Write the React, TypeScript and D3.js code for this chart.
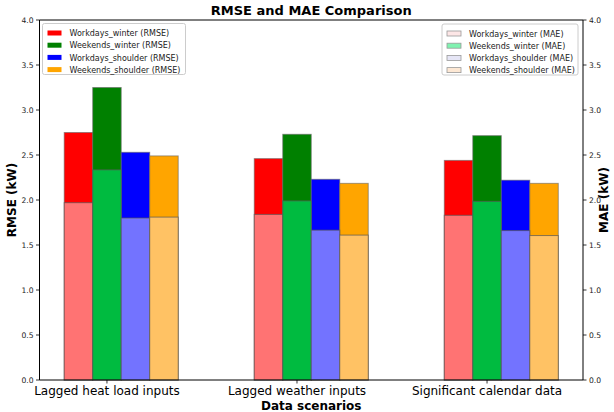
import React from "react";
import * as d3 from "d3";

const categories = ["Lagged heat load inputs", "Lagged weather inputs", "Significant calendar data"];
const seriesNames = ["Workdays_winter", "Weekends_winter", "Workdays_shoulder", "Weekends_shoulder"];
const rmseWorkdaysWinter = [2.75, 2.46, 2.44];
const rmseWeekendsWinter = [3.25, 2.73, 2.715];
const rmseWorkdaysShoulder = [2.53, 2.23, 2.22];
const rmseWeekendsShoulder = [2.49, 2.185, 2.185];
const maeWorkdaysWinter = [1.97, 1.84, 1.83];
const maeWeekendsWinter = [2.335, 1.99, 1.985];
const maeWorkdaysShoulder = [1.80, 1.665, 1.66];
const maeWeekendsShoulder = [1.81, 1.61, 1.605];
const yTicks = [0, 0.5, 1.0, 1.5, 2.0, 2.5, 3.0, 3.5, 4.0];

const rmseColors = ["#ff0000", "#008000", "#0000ff", "#ffa500"];
const maeColors = ["#ff7373", "#00bb40", "#7373ff", "#ffc264"];
const maeLegendColors = ["#fde6e6", "#80f2b0", "#e6e6f6", "#fde8d4"];

const W = 614, H = 412;
const left = 39.5, right = 583, top = 20, bottom = 380;
const barW = 0.15;
const font = "DejaVu Sans, sans-serif";

export default function App() {
  const rmse = [rmseWorkdaysWinter, rmseWeekendsWinter, rmseWorkdaysShoulder, rmseWeekendsShoulder];
  const mae = [maeWorkdaysWinter, maeWeekendsWinter, maeWorkdaysShoulder, maeWeekendsShoulder];
  const x = d3.scaleLinear().domain([-0.355, 2.505]).range([left, right]);
  const y = d3.scaleLinear().domain([0, 4]).range([bottom, top]);
  const y2 = d3.scaleLinear().domain([0, 4]).range([bottom, top]);
  const bw = x(barW) - x(0);

  const bars: React.ReactNode[] = [];
  rmse.forEach((s, i) => {
    s.forEach((v, c) => {
      const cx = x(c + (i - 1) * barW);
      bars.push(
        <rect key={`r${i}-${c}`} x={cx - bw / 2} y={y(v)} width={bw} height={y(0) - y(v)}
          fill={rmseColors[i]} stroke="#666" strokeOpacity={0.6} strokeWidth={1} />
      );
    });
  });
  mae.forEach((s, i) => {
    s.forEach((v, c) => {
      const cx = x(c + (i - 1) * barW);
      bars.push(
        <rect key={`m${i}-${c}`} x={cx - bw / 2} y={y2(v)} width={bw} height={y2(0) - y2(v)}
          fill={maeColors[i]} stroke="#555" strokeOpacity={0.7} strokeWidth={1} />
      );
    });
  });

  const legend = (lx: number, ly: number, w: number, labels: string[], colors: string[], mae: boolean) => (
    <g transform={`translate(${lx},${ly})`}>
      <rect x={0} y={0} width={w} height={51} fill="#fff" fillOpacity={0.8} stroke="#ccc" rx={2} />
      {labels.map((l, i) => (
        <g key={l} transform={`translate(0,${7 + i * 12.2})`}>
          <rect x={5} y={0} width={14} height={5} fill={colors[i]} stroke={mae ? "#999" : "none"} strokeWidth={0.8} />
          <text x={27} y={5.7} fontSize={8} fill="#222" fontFamily={font}>{l}</text>
        </g>
      ))}
    </g>
  );

  return (
    <svg width={W} height={H} style={{ position: "absolute", left: 0, top: 0 }} fontFamily={font}>
      <rect width={W} height={H} fill="#fff" />
      <text x={(left + right) / 2} y={15} textAnchor="middle" fontSize={13} fontWeight="bold">RMSE and MAE Comparison</text>
      {bars}
      <line x1={left} x2={left} y1={top} y2={bottom} stroke="#000" strokeWidth={1} />
      <line x1={right} x2={right} y1={top} y2={bottom} stroke="#000" strokeWidth={1} />
      <line x1={left} x2={right} y1={top} y2={top} stroke="#000" strokeWidth={1} />
      <line x1={left} x2={right} y1={bottom} y2={bottom} stroke="#000" strokeWidth={1} />
      {yTicks.map((t) => (
        <g key={`yl${t}`}>
          <line x1={left - 3.5} x2={left} y1={y(t)} y2={y(t)} stroke="#000" strokeWidth={0.8} />
          <text x={left - 6} y={y(t) + 2.7} textAnchor="end" fontSize={7.6} fill="#222">{t.toFixed(1)}</text>
          <line x1={right} x2={right + 3.5} y1={y2(t)} y2={y2(t)} stroke="#000" strokeWidth={0.8} />
          <text x={right + 6} y={y2(t) + 2.7} textAnchor="start" fontSize={7.6} fill="#222">{t.toFixed(1)}</text>
        </g>
      ))}
      {categories.map((c, i) => (
        <g key={c}>
          <line x1={x(i)} x2={x(i)} y1={bottom} y2={bottom + 3.5} stroke="#000" strokeWidth={0.8} />
          <text x={x(i)} y={bottom + 15} textAnchor="middle" fontSize={12} fill="#000">{c}</text>
        </g>
      ))}
      <text x={(left + right) / 2} y={bottom + 30} textAnchor="middle" fontSize={12} fontWeight="bold">Data scenarios</text>
      <text transform={`translate(16,${(top + bottom) / 2}) rotate(-90)`} textAnchor="middle" fontSize={12} fontWeight="bold">RMSE (kW)</text>
      <text transform={`translate(${W - 6},${(top + bottom) / 2}) rotate(-90)`} textAnchor="middle" fontSize={12} fontWeight="bold">MAE (kW)</text>
      {legend(42.5, 23.5, 143, seriesNames.map((s) => `${s} (RMSE)`), rmseColors, false)}
      {legend(442, 24, 136, seriesNames.map((s) => `${s} (MAE)`), maeLegendColors, true)}
    </svg>
  );
}
